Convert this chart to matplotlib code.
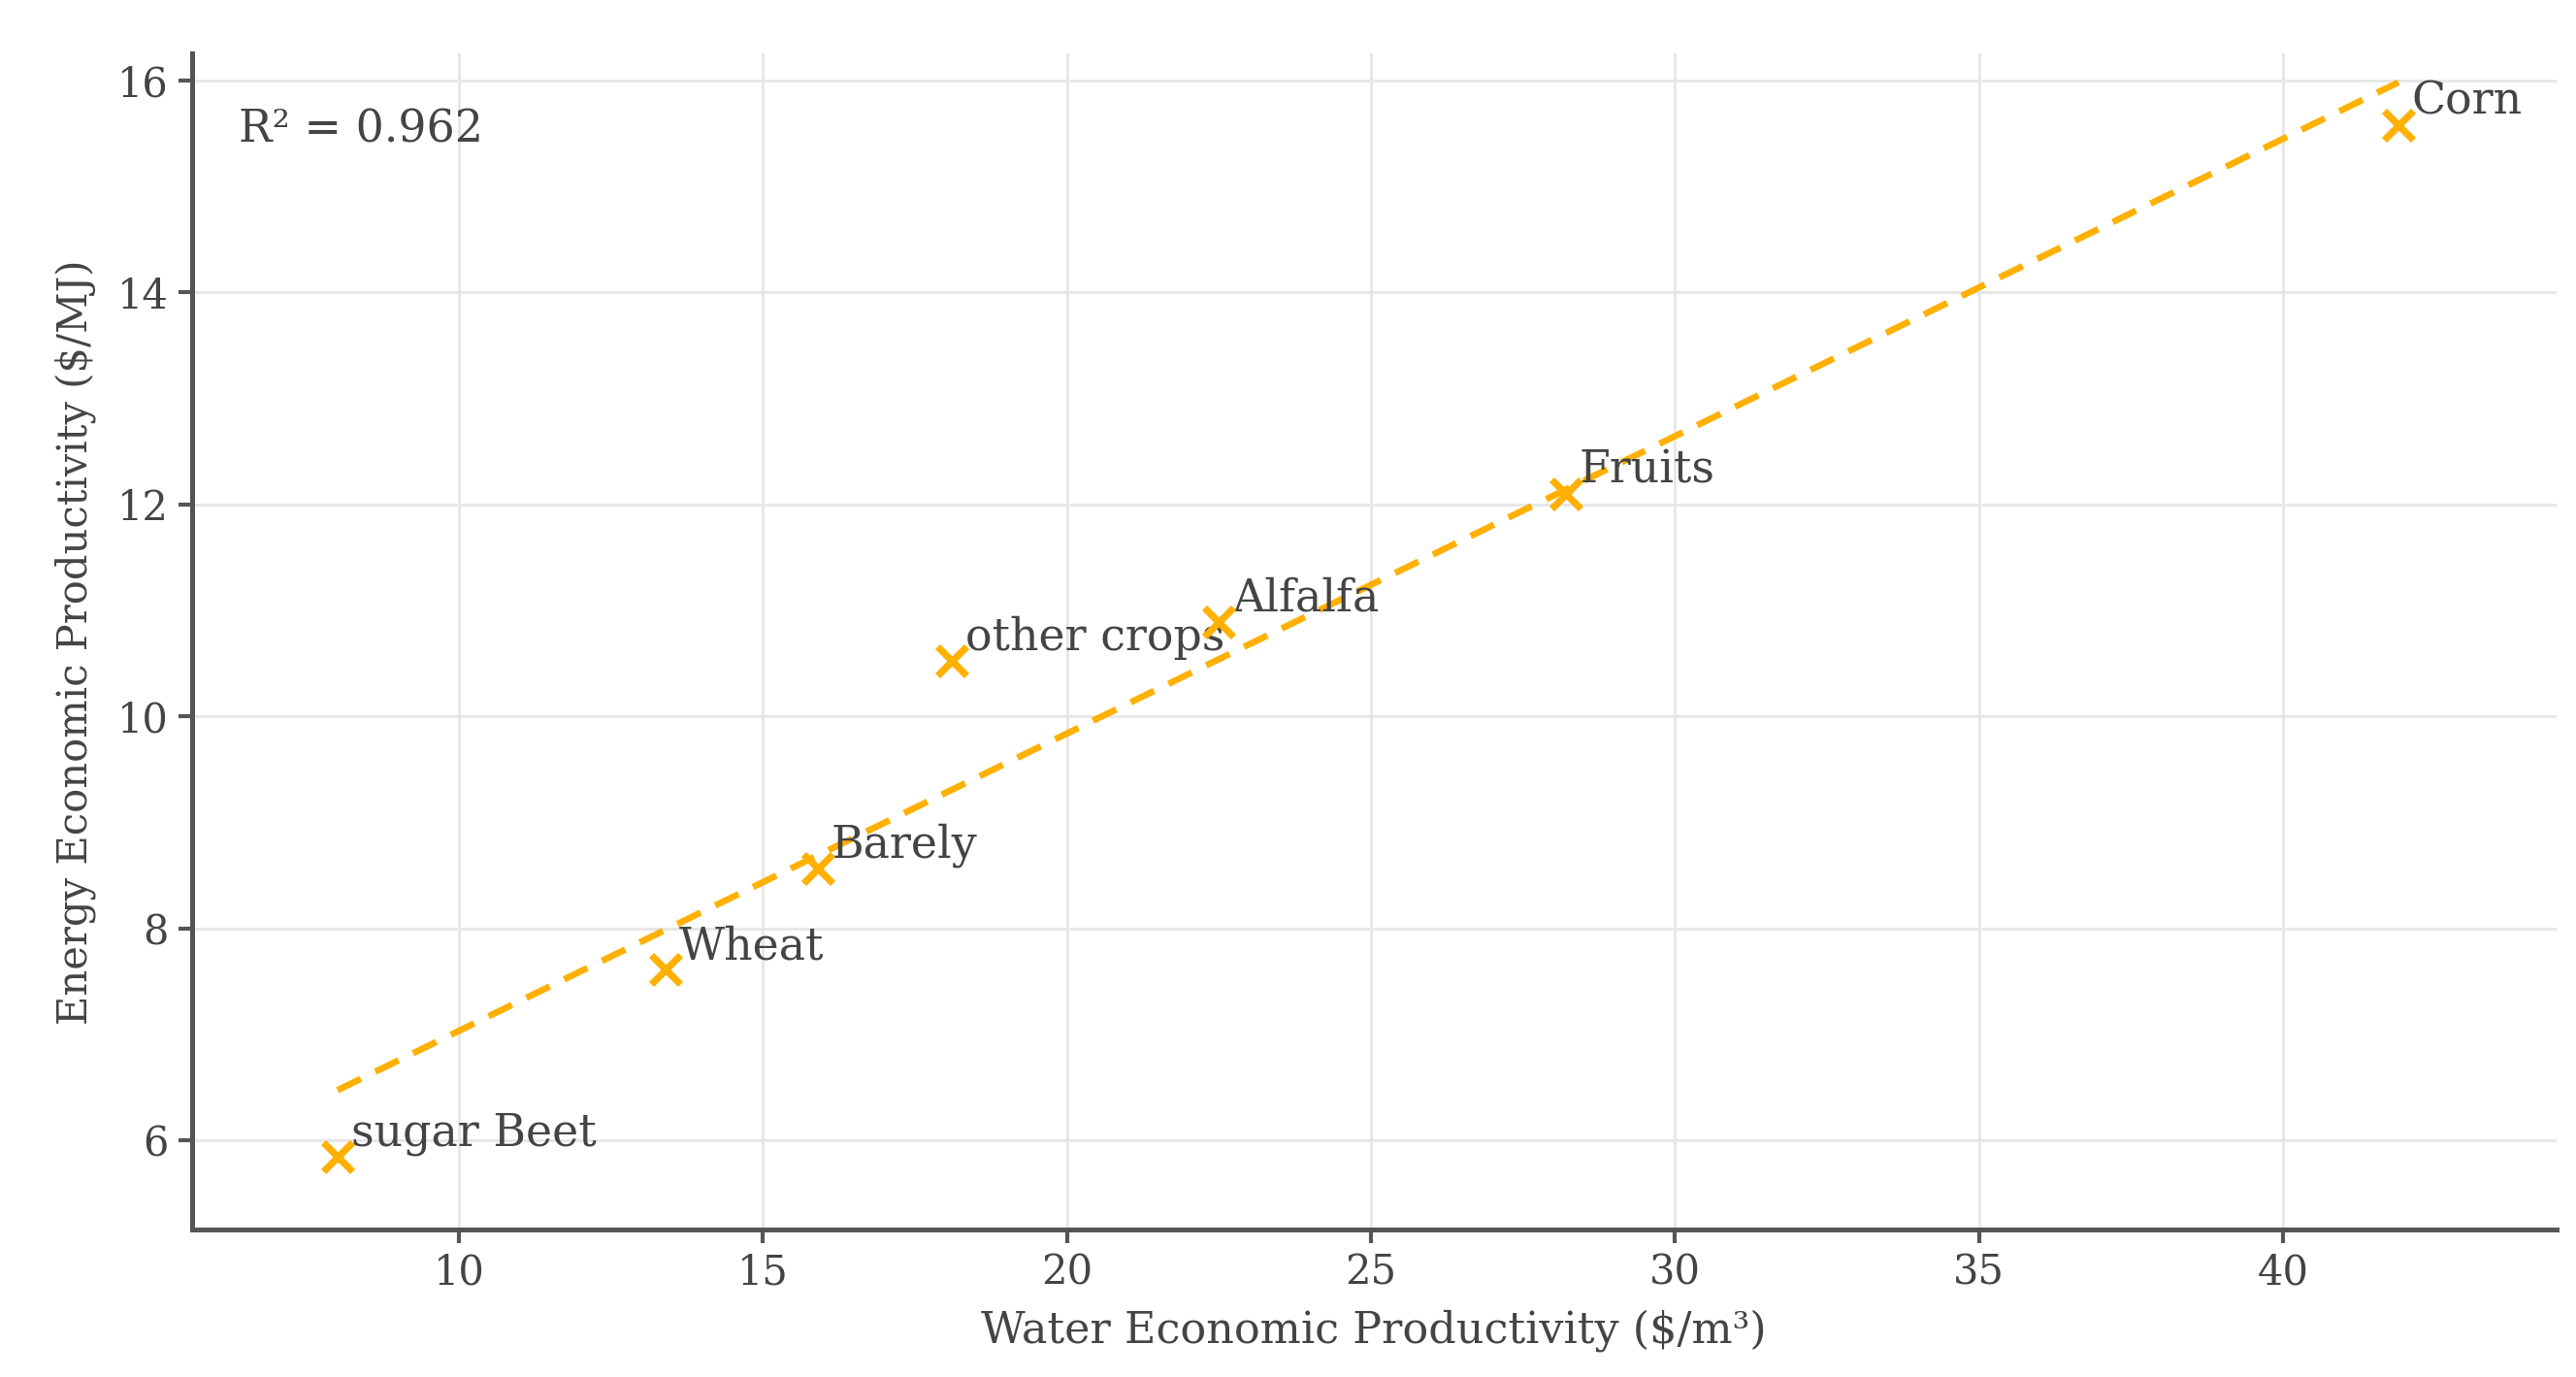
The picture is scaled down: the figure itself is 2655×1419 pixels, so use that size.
import numpy as np
import matplotlib
matplotlib.use('Agg')
import matplotlib.pyplot as plt

# crop productivity values
crops = ['sugar Beet', 'Wheat', 'Barely', 'other crops', 'Alfalfa', 'Fruits', 'Corn']
water_prod = [8.0, 13.4, 15.9, 18.1, 22.5, 28.2, 41.9]
energy_prod = [5.85, 7.61, 8.57, 10.52, 10.89, 12.10, 15.58]
r2_label = 'R\u00b2 = 0.962'

params = {
    'font.family': 'DejaVu Serif',
    'font.size': 15,
    'axes.labelsize': 15,
    'xtick.labelsize': 15,
    'ytick.labelsize': 15,
    'text.color': '#444444',
    'axes.labelcolor': '#444444',
    'xtick.color': '#444444',
    'ytick.color': '#444444',
}
plt.rcParams.update(params)

col = '#FFB000'
x = np.array(water_prod)
y = np.array(energy_prod)

fig = plt.figure(figsize=(13.275, 7.095), dpi=200)
ax = fig.add_axes([0.0744, 0.107, 0.918, 0.854])

fit = np.polyfit(x, y, 1)
z = np.poly1d(fit)
xl = np.array([x.min(), x.max()])
ax.plot(xl, z(xl), '--', color=col, lw=2.4, dashes=(4, 2.5), zorder=3)
ax.plot(x, y, 'x', color=col, ms=11, mew=2.6, zorder=4)

for name, xi, yi in zip(crops, x, y):
    ax.annotate(name, (xi, yi), xytext=(5, 4), textcoords='offset points',
                fontsize=16.5, color='#444444')

ax.text(0.02, 0.935, r2_label, transform=ax.transAxes, va='center', fontsize=16.5)

ax.set_xlim(5.6, 44.5)
ax.set_ylim(5.16, 16.25)
ax.set_xticks([10, 15, 20, 25, 30, 35, 40])
ax.set_yticks([6, 8, 10, 12, 14, 16])
ax.grid(True, color='#e6e6e6', lw=1.0)
ax.set_axisbelow(True)
for s in ['top', 'right']:
    ax.spines[s].set_visible(False)
for s in ['left', 'bottom']:
    ax.spines[s].set_color('#555555')
    ax.spines[s].set_linewidth(1.8)
ax.tick_params(width=1.5, length=5, color='#555555')

ax.set_xlabel('Water Economic Productivity ($/m\u00b3)', labelpad=6, fontsize=16)
ax.set_ylabel('Energy Economic Productivity ($/MJ)', labelpad=8)

fig.savefig('out.png', dpi=200)
